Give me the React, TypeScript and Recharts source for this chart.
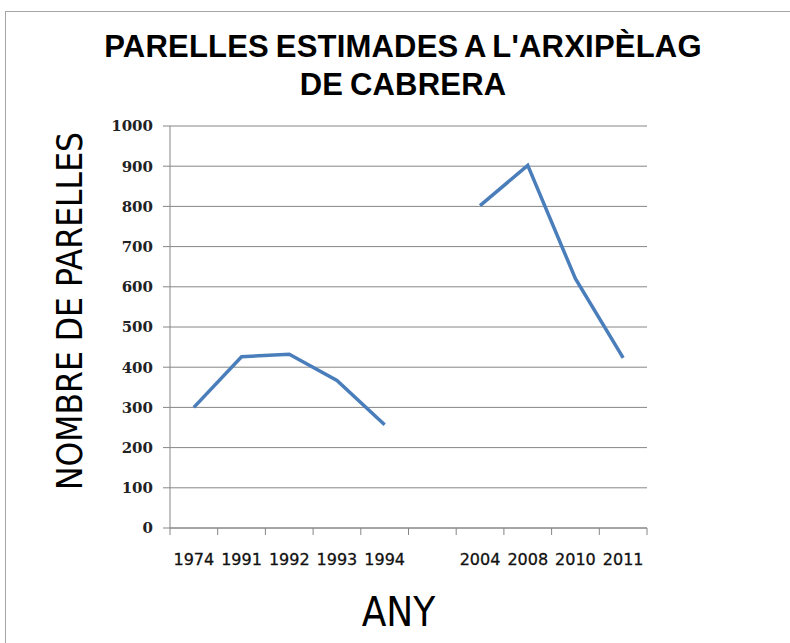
import React from 'react';
import { LineChart, Line, XAxis, YAxis, CartesianGrid } from 'recharts';

// survey years, with an empty slot between the two survey periods
const years = ['1974', '1991', '1992', '1993', '1994', '', '2004', '2008', '2010', '2011'];
const pairs: (number | null)[] = [300, 426, 432, 367, 257, null, 802, 902, 620, 423];
const yTicks = [0, 100, 200, 300, 400, 500, 600, 700, 800, 900, 1000];

const data = years.map((year, i) => ({ year, pairs: pairs[i] }));

const AXIS_GREY = '#868686';

// category tick: label at band centre, tick mark on the band edges
const BandTick = (props: any) => {
  const { x, y, payload, index } = props;
  const half = payload.offset || 0;
  const last = index === years.length - 1;
  return (
    <g>
      <line x1={x - half} x2={x - half} y1={y - 8} y2={y - 1} stroke={AXIS_GREY} />
      {last && <line x1={x + half} x2={x + half} y1={y - 8} y2={y - 1} stroke={AXIS_GREY} />}
      <text
        x={x}
        y={y + 29}
        textAnchor="middle"
        fontFamily="'DejaVu Sans', sans-serif"
        fontSize={16}
        fill="#111"
        stroke="#111"
        strokeWidth={0.3}
      >
        {payload.value}
      </text>
    </g>
  );
};

export default function App() {
  return (
    <div style={{ position: 'absolute', left: 0, top: 0, width: 790, height: 643, background: '#fff', overflow: 'hidden' }}>
      <div
        style={{
          position: 'absolute',
          left: 5,
          top: 11,
          width: 800,
          height: 700,
          borderLeft: '1px solid #a6a6a6',
          borderTop: '1px solid #a6a6a6',
        }}
      />
      <div
        style={{
          position: 'absolute',
          left: 0,
          top: 28,
          width: 806,
          textAlign: 'center',
          fontFamily: "'Liberation Sans', Arial, sans-serif",
          fontWeight: 'bold',
          fontSize: 31,
          lineHeight: '38px',
          letterSpacing: 0.2,
          wordSpacing: -2,
          color: '#000',
        }}
      >
        PARELLES ESTIMADES A L'ARXIPÈLAG
        <br />
        DE CABRERA
      </div>
      <LineChart width={790} height={643} data={data} margin={{ top: 126, right: 143, bottom: 0, left: 110 }}>
        <CartesianGrid vertical={false} stroke={AXIS_GREY} strokeWidth={1} />
        <XAxis
          dataKey="year"
          scale="band"
          height={115}
          axisLine={{ stroke: AXIS_GREY }}
          tickLine={false}
          tick={<BandTick />}
          interval={0}
          label={{
            content: (p: any) => {
              const vb = p.viewBox;
              return (
                <text
                  x={vb.x + vb.width / 2 - 10}
                  y={vb.y + 98}
                  textAnchor="middle"
                  fontFamily="'Liberation Sans Narrow', 'DejaVu Sans Condensed', sans-serif"
                  fontSize={40}
                  fill="#000"
                >
                  ANY
                </text>
              );
            },
          }}
        />
        <YAxis
          width={60}
          domain={[0, 1000]}
          ticks={yTicks}
          interval={0}
          axisLine={{ stroke: AXIS_GREY }}
          tickLine={{ stroke: AXIS_GREY }}
          tickSize={7}
          tickMargin={10}
          tick={{ fontFamily: "'DejaVu Serif', serif", fontWeight: 'bold', fontSize: 15, fill: '#222' }}
          label={{
            content: (p: any) => {
              const vb = p.viewBox;
              const cx = vb.x - 40;
              const cy = vb.y + vb.height / 2 - 16;
              return (
                <text
                  x={cx}
                  y={cy}
                  transform={`rotate(-90 ${cx} ${cy})`}
                  textAnchor="middle"
                  dominantBaseline="central"
                  fontFamily="'Liberation Sans Narrow', 'DejaVu Sans Condensed', sans-serif"
                  fontSize={35}
                  fill="#000"
                >
                  NOMBRE DE PARELLES
                </text>
              );
            },
          }}
        />
        <Line
          type="linear"
          dataKey="pairs"
          stroke="#4a7ebb"
          strokeWidth={3.5}
          dot={false}
          activeDot={false}
          connectNulls={false}
          isAnimationActive={false}
        />
      </LineChart>
    </div>
  );
}
